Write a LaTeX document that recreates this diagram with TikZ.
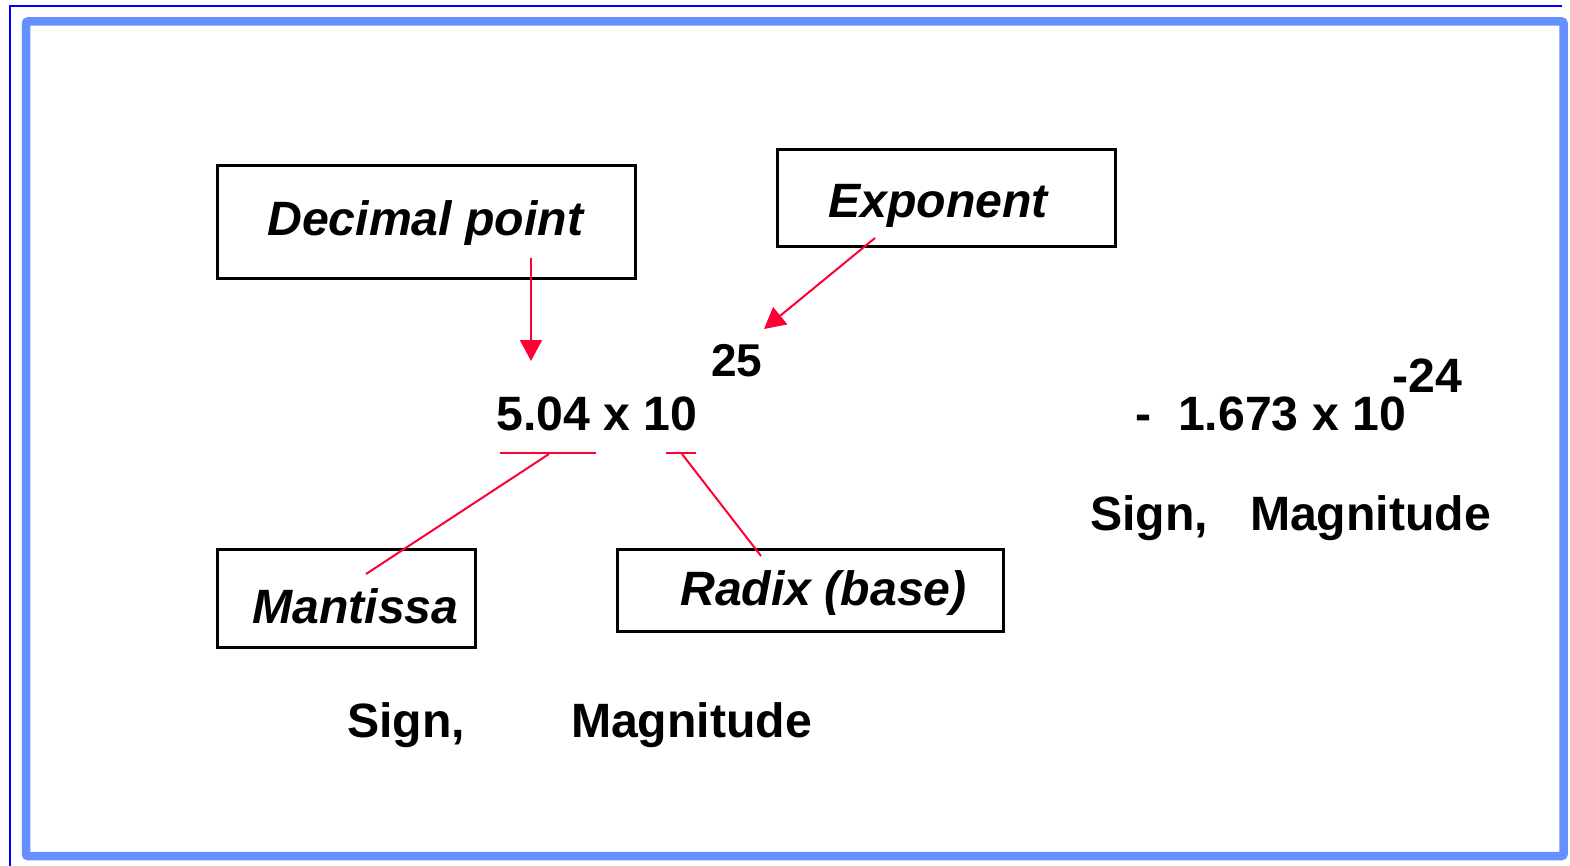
\documentclass[tikz,border=0pt]{standalone}
\usepackage{fontspec}
\setmainfont{Liberation Sans}
\usetikzlibrary{arrows.meta}
\definecolor{frameblue}{HTML}{6690FF}
\definecolor{edgeblue}{HTML}{0000FF}
\definecolor{callred}{HTML}{FF0033}
\begin{document}
\begin{tikzpicture}[x=1pt,y=-1pt,
  box/.style={draw=black, line width=3pt, inner sep=0pt, rectangle},
  lbl/.style={anchor=base west, inner sep=0pt, font=\fontsize{48.2}{57}\selectfont\bfseries\itshape},
  num/.style={anchor=base west, inner sep=0pt, font=\fontsize{48.2}{57}\selectfont\bfseries},
  supnum/.style={anchor=base west, inner sep=0pt, font=\fontsize{46}{54}\selectfont\bfseries},
  call/.style={draw=callred, line width=2pt},
  callarrow/.style={call, -{Triangle[length=21pt,width=22pt]}}]
\useasboundingbox (0,0) rectangle (1570,866);

% page frame
\draw[edgeblue, line width=2pt] (10.3,866) -- (10.3,6) -- (1562,6);
\draw[frameblue, line width=8.5pt, rounded corners=2pt] (26,21.5) rectangle (1563.5,856);

% label boxes
\node[box, minimum width=418pt, minimum height=113pt] (dpbox) at (426,222.5) {};
\node[box, minimum width=338pt, minimum height=97pt] (expbox) at (946,198.5) {};
\node[box, minimum width=258pt, minimum height=98pt] (manbox) at (346,598) {};
\node[box, minimum width=386pt, minimum height=82pt] (radbox) at (810,590) {};

\node[lbl] (dptext) at (267,236) {Decimal point};
\node[lbl] (exptext) at (828,218) {Exponent};
\node[lbl] (mantext) at (252,623) {Mantissa};
\node[lbl] (radtext) at (680,605) {Radix (base)};

% first number
\node[num] (numA) at (496,430) {5.04 x 10};
\node[supnum] (expA) at (711,376) {25};
\node[num] (signA) at (347,737) {Sign,\hspace{106pt}Magnitude};

% second number
\node[num] (numB) at (1135,430) {-\ \ 1.673 x 10};
\node[num] (expB) at (1392,392) {-24};
\node[num] (signB) at (1090,530) {Sign,\hspace{42pt}Magnitude};

% underlines below mantissa and radix
\coordinate (manL) at (500,453);
\coordinate (manR) at (596,453);
\coordinate (radL) at (666,453);
\coordinate (radR) at (696,453);
\draw[call] (manL) -- (manR);
\draw[call] (radL) -- (radR);

% connector end points
\coordinate (dpstart) at (531,258);
\coordinate (dptip) at (531,361);
\coordinate (expstart) at (875,238);
\coordinate (exptip) at (764,329);
\coordinate (manmid) at (549,454);
\coordinate (manend) at (366,574);
\coordinate (radmid) at (682,454);
\coordinate (radend) at (761,556);

\draw[callarrow] (dpstart) -- (dptip);
\draw[callarrow] (expstart) -- (exptip);
\draw[call] (manmid) -- (manend);
\draw[call] (radmid) -- (radend);
\end{tikzpicture}
\end{document}
